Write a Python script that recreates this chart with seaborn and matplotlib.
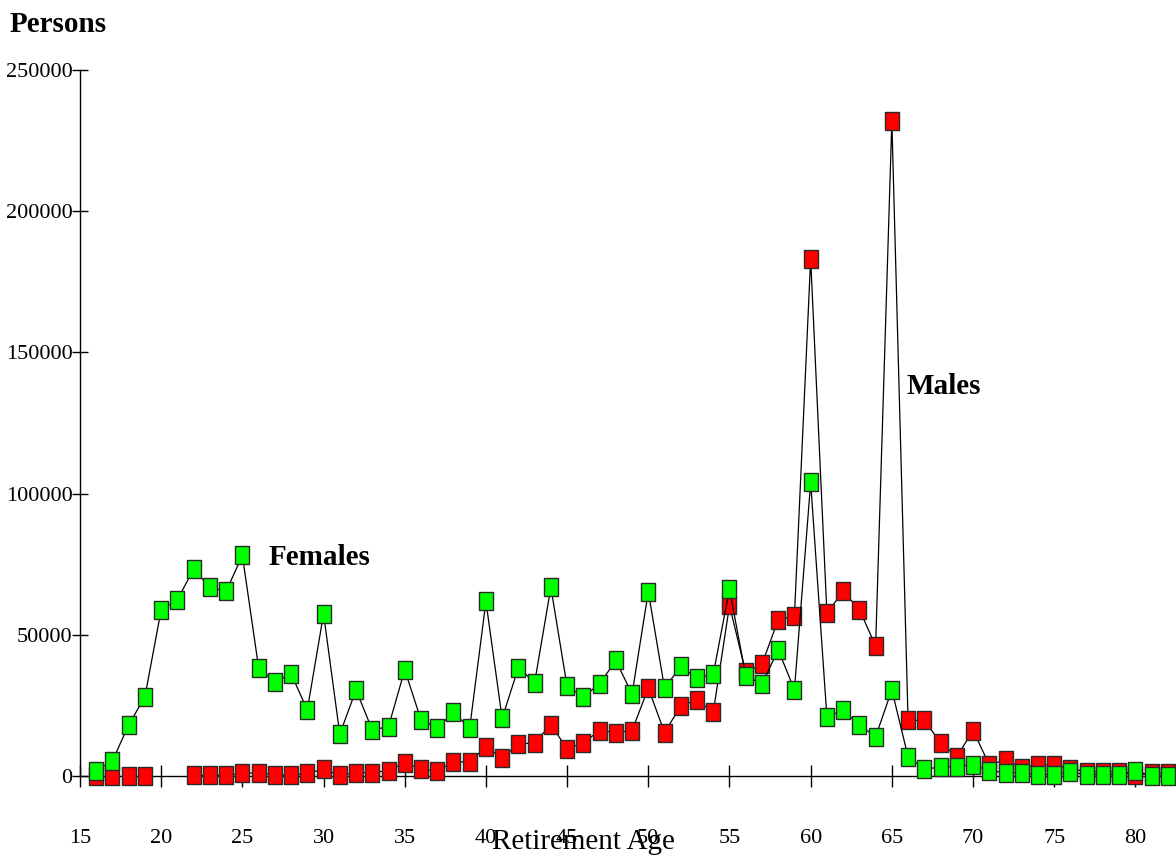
import numpy as np
import pandas as pd
import matplotlib
matplotlib.use("Agg")
import matplotlib.pyplot as plt
import seaborn as sns

ages = list(range(16, 83))

females = [1900, 5400, 18100, 28100, 58900, 62400, 73300, 66800, 65400, 78100,
           38400, 33200, 36200, 23400, 57400, 14800, 30500, 16300, 17500, 37600,
           19900, 17000, 22500, 17000, 61800, 20400, 38400, 33100, 66800, 31700,
           28100, 32600, 40900, 29000, 65300, 31100, 38800, 34600, 36000, 66200,
           35500, 32500, 44700, 30500, 104000, 21000, 23200, 18100, 13900, 30500,
           6800, 2400, 3200, 3300, 4000, 1900, 1200, 1200, 500, 500,
           1400, 500, 500, 500, 1900, 0, 0]

males = [0, 0, 0, 0, np.nan, np.nan, 200, 200, 300, 900,
         1200, 300, 300, 900, 2400, 200, 1200, 1200, 1900, 4700,
         2500, 1800, 5000, 5000, 10300, 6400, 11300, 11800, 18200, 9600,
         11800, 16100, 15400, 16100, 31100, 15400, 24800, 27000, 22500, 60400,
         36700, 39600, 55300, 56800, 183200, 57700, 65400, 58900, 46100, 231800,
         19700, 19700, 11800, 6800, 16100, 4000, 5700, 3000, 3900, 3900,
         2600, 1500, 1500, 1500, 300, 900, 900]

x_ticks = list(range(15, 85, 5))
y_ticks = [0, 50000, 100000, 150000, 200000, 250000]

sns.set_theme(style="white")
plt.rcParams["font.family"] = ["Liberation Serif", "DejaVu Serif"]
plt.rcParams["text.color"] = "black"
plt.rcParams["axes.labelcolor"] = "black"
plt.rcParams["xtick.color"] = "black"
plt.rcParams["ytick.color"] = "black"

fig = plt.figure(figsize=(11.76, 8.56), dpi=100)
ax = fig.add_axes([80 / 1176, 80 / 856, 1096 / 1176, 706 / 856])

rect = [(-0.38, -0.5), (0.38, -0.5), (0.38, 0.5), (-0.38, 0.5), (-0.38, -0.5)]

df_m = pd.DataFrame({"age": ages, "persons": males})
df_m["seg"] = df_m["persons"].isna().cumsum()
df_m = df_m.dropna()
df_f = pd.DataFrame({"age": ages, "persons": females})
df_f["seg"] = 0

common = dict(x="age", y="persons", units="seg", estimator=None, ax=ax,
              color="black", linewidth=0.9, marker=rect, markersize=13,
              markeredgecolor="#2a2a2a", markeredgewidth=1.0,
              clip_on=False, legend=False)

sns.lineplot(data=df_m, markerfacecolor="#ff0000", zorder=3, **common)
sns.lineplot(data=df_f, markerfacecolor="#00ff00", zorder=4, **common)

ax.set_xlim(15, 82.5)
ax.set_ylim(0, 250000)
ax.set_xticks(x_ticks)
ax.set_yticks(y_ticks)
ax.set_yticklabels([str(v) for v in y_ticks])
ax.set_xticklabels([str(v) for v in x_ticks])

for s in ["top", "right"]:
    ax.spines[s].set_visible(False)
for s in ["left", "bottom"]:
    ax.spines[s].set_color("black")
    ax.spines[s].set_linewidth(1.0)

ax.tick_params(axis="x", direction="inout", length=16, width=1.0, color="black",
               pad=30, labelsize=16, labelcolor="black", bottom=True)
ax.tick_params(axis="y", direction="inout", length=11, width=1.0, color="black",
               pad=0, labelsize=16, labelcolor="black", left=True)
ax.grid(False)

ax.set_ylabel("")
ax.set_xlabel("Retirement Age", fontsize=21, color="black")
ax.xaxis.set_label_coords((583 - 80) / 1096, (14 - 80) / 706)
ax.xaxis.label.set_verticalalignment("center")

fig.text(10 / 1176, 1 - 25 / 856, "Persons", fontsize=21, fontweight="bold",
         ha="left", va="center", color="black")
ax.text(26.6, 77500, "Females", fontsize=21, fontweight="bold", ha="left",
        va="center", color="black")
ax.text(65.9, 138100, "Males", fontsize=21, fontweight="bold", ha="left",
        va="center", color="black")

fig.savefig("out.png", dpi=100)
